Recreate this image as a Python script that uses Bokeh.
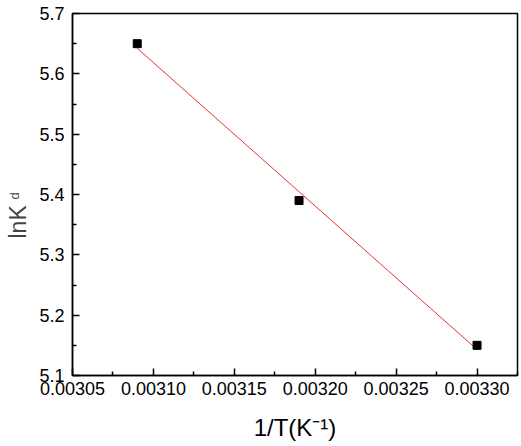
import numpy as np
from bokeh.plotting import figure
from bokeh.models import Range1d, FixedTicker, PrintfTickFormatter, Label
from bokeh.embed import file_html
from bokeh.resources import INLINE

# data
inv_t = [0.00309, 0.00319, 0.00330]
ln_kd = [5.65, 5.39, 5.15]

x_ticks = [0.00305, 0.00310, 0.00315, 0.00320, 0.00325, 0.00330]
y_ticks = [5.1, 5.2, 5.3, 5.4, 5.5, 5.6, 5.7]

# linear fit through the points
slope, icpt = np.polyfit(inv_t, ln_kd, 1)
fit_x = [inv_t[0], inv_t[-1]]
fit_y = [slope * v + icpt for v in fit_x]

font = "Liberation Sans"

p = figure(width=520, height=445,
           min_border_left=72, min_border_right=3,
           min_border_top=13, min_border_bottom=70,
           x_range=Range1d(0.00305, 0.003325), y_range=Range1d(5.1, 5.7),
           output_backend="svg", toolbar_location=None)

p.background_fill_color = "white"
p.border_fill_color = "white"
p.outline_line_color = "black"
p.outline_line_width = 1.5
p.xgrid.visible = False
p.ygrid.visible = False

for ax in (p.xaxis, p.yaxis):
    ax.axis_line_width = 1.5
    ax.major_tick_in = 7
    ax.major_tick_out = 0
    ax.minor_tick_in = 4
    ax.minor_tick_out = 0
    ax.major_tick_line_width = 1.5
    ax.minor_tick_line_width = 1.5
    ax.major_label_text_font = font
    ax.major_label_text_font_size = "18px"
    ax.major_label_text_color = "black"

p.xaxis.ticker = FixedTicker(ticks=x_ticks,
                             minor_ticks=[v + 0.000025 for v in x_ticks])
p.xaxis.formatter = PrintfTickFormatter(format="%.5f")
p.xaxis.major_label_standoff = 6
p.xaxis.axis_label = "1/T(K\u207b\u00b9)"
p.xaxis.axis_label_text_font = font
p.xaxis.axis_label_text_font_size = "24px"
p.xaxis.axis_label_text_font_style = "normal"
p.xaxis.axis_label_text_color = "black"
p.xaxis.axis_label_standoff = 16

p.yaxis.ticker = FixedTicker(ticks=y_ticks,
                             minor_ticks=[v + 0.05 for v in y_ticks])
p.yaxis.formatter = PrintfTickFormatter(format="%.1f")
p.yaxis.major_label_standoff = 8

p.line(fit_x, fit_y, line_color="#e8342c", line_width=1)
p.scatter(inv_t, ln_kd, marker="square", size=8, color="black")

# y title lnK with subscript d; labels sit in side panels so the frame
# does not clip them (screen px relative to each panel)
p.add_layout(Label(x=7.2, y=137, x_units="screen", y_units="screen",
                   text="lnK", angle=np.pi / 2, text_font=font,
                   text_font_size="23px", text_align="left",
                   text_baseline="alphabetic"), "left")
p.add_layout(Label(x=-57.9, y=-185.9, x_units="screen", y_units="screen",
                   text="d", angle=np.pi / 2, text_font=font,
                   text_font_size="13px", text_align="left",
                   text_baseline="alphabetic"), "above")

open("out.html", "w").write(file_html(p, INLINE))
